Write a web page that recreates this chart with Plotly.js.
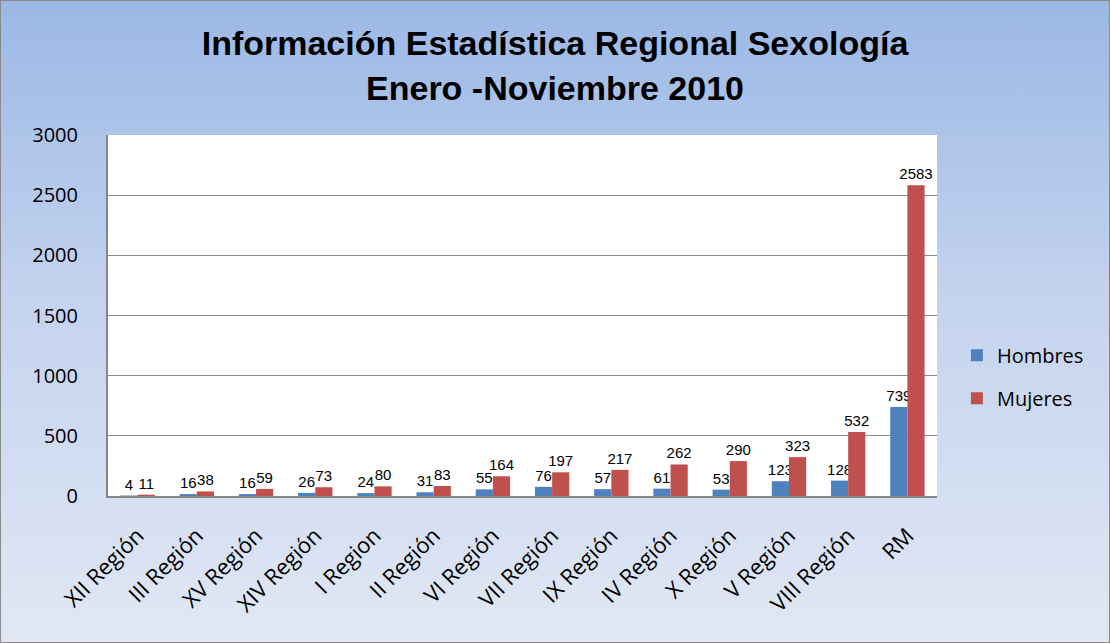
<!DOCTYPE html>
<html>
<head>
<meta charset="utf-8">
<script src="https://cdn.plot.ly/plotly-3.0.1.min.js"></script>
<style>
  html, body { margin: 0; padding: 0; }
  #chart {
    position: absolute; left: 0; top: 0;
    width: 1108px; height: 641px;
    border: 1px solid #8a8a8a;
    background: linear-gradient(to bottom, #9bb8e5 0%, #c3d2ee 45%, #e1e8f4 100%);
  }
</style>
</head>
<body>
<div id="chart"></div>
<script>
var regiones = ['XII Región', 'III Región', 'XV Región', 'XIV Región', 'I Region', 'II Región',
  'VI Región', 'VII Región', 'IX Región', 'IV Región', 'X Región', 'V Región', 'VIII Región', 'RM'];
var hombres = [4, 16, 16, 26, 24, 31, 55, 76, 57, 61, 53, 123, 128, 739];
var mujeres = [11, 38, 59, 73, 80, 83, 164, 197, 217, 262, 290, 323, 532, 2583];
var yTicks = [0, 500, 1000, 1500, 2000, 2500, 3000];

var labelFont = { family: 'Liberation Sans, Arial, sans-serif', size: 15, color: '#000' };
var tickFont = { family: 'Open Sans, Lato, sans-serif', size: 20, color: '#000' };

var traces = [
  {
    type: 'bar', name: 'Hombres', x: regiones, y: hombres,
    marker: { color: '#4f81bd' },
    text: hombres.map(String), textposition: 'outside', cliponaxis: false,
    textfont: labelFont, constraintext: 'none', legendgroup: 'h'
  },
  {
    type: 'bar', name: 'Mujeres', x: regiones, y: mujeres,
    marker: { color: '#c0504d' },
    text: mujeres.map(String), textposition: 'outside', cliponaxis: false,
    textfont: labelFont, constraintext: 'none', legendgroup: 'm'
  }
];

var layout = {
  width: 1108, height: 641,
  paper_bgcolor: 'rgba(0,0,0,0)',
  plot_bgcolor: '#ffffff',
  margin: { l: 107, r: 172, t: 134, b: 146 },
  title: {
    text: '<b>Información Estadística Regional Sexología<br>Enero -Noviembre 2010</b>',
    font: { family: 'Liberation Sans, Arial, sans-serif', size: 34, color: '#000' },
    x: 0.5, xanchor: 'center', y: 0.915, yanchor: 'middle'
  },
  barmode: 'group',
  bargap: 0.42,
  bargroupgap: 0,
  showlegend: true,
  legend: {
    x: 1.024, xanchor: 'left', y: 0.33, yanchor: 'middle',
    font: { family: 'Open Sans, Lato, sans-serif', size: 20, color: '#000' },
    bgcolor: 'rgba(0,0,0,0)', traceorder: 'grouped', tracegroupgap: 14
  },
  xaxis: {
    type: 'category', tickangle: -45,
    tickfont: { family: 'Open Sans, Lato, sans-serif', size: 22, color: '#000' },
    showline: true, linecolor: '#868686', linewidth: 2,
    ticks: '', showgrid: false, ticklabelstandoff: 16
  },
  yaxis: {
    range: [0, 3000], tickvals: yTicks, tickfont: tickFont,
    showgrid: true, gridcolor: '#8c8c8c', gridwidth: 1,
    showline: true, linecolor: '#868686', linewidth: 2,
    zeroline: false, ticks: '', ticklabelstandoff: 24
  },
  font: { family: 'Liberation Sans, Arial, sans-serif' }
};

Plotly.newPlot('chart', traces, layout, { displayModeBar: false, staticPlot: true });
</script>
</body>
</html>
